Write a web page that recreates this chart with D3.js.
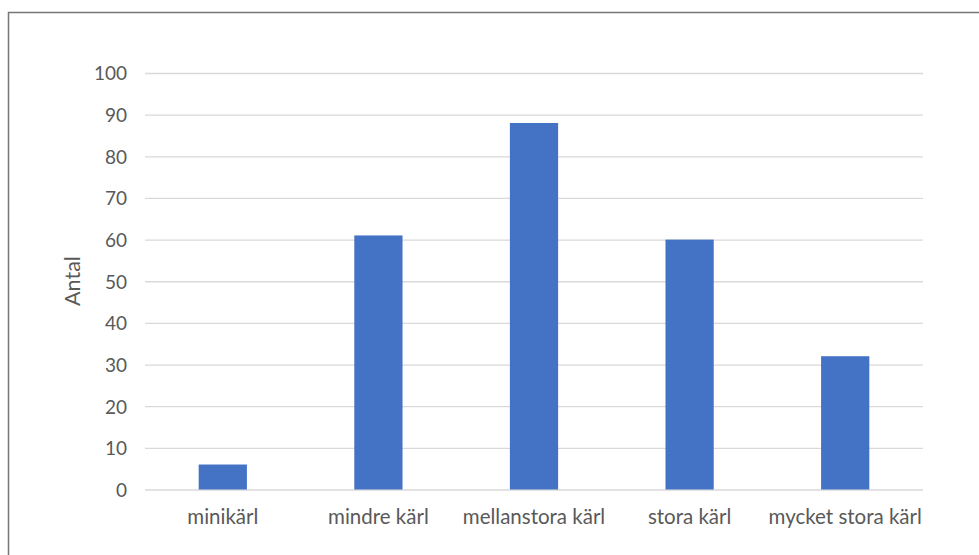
<!DOCTYPE html>
<html>
<head>
<meta charset="utf-8">
<script src="https://cdn.jsdelivr.net/npm/d3@7"></script>
<style>
    body { margin: 0; background: #fff; }
    svg { display: block; }
    .tick text, .axis-label { fill: #595959; font-family: Lato, "Open Sans", sans-serif; font-size: 19px; }
    .x-axis .tick text { font-size: 20.5px; }
    .axis-label { font-size: 21.5px; }
</style>
</head>
<body>
<svg id="chart" width="979" height="555"></svg>
<script>
const categories = ["minikärl", "mindre kärl", "mellanstora kärl", "stora kärl", "mycket stora kärl"];
const counts = [6, 61, 88, 60, 32];
const yTickValues = [0, 10, 20, 30, 40, 50, 60, 70, 80, 90, 100];

const data = categories.map((c, i) => ({ category: c, count: counts[i] }));

const svg = d3.select("#chart");
const width = +svg.attr("width");
const height = +svg.attr("height");

// outer frame, open at the bottom like the reference
svg.append("path")
    .attr("d", `M8.5,${height}V12.5H${width}`)
    .attr("fill", "none")
    .attr("stroke", "#767676")
    .attr("stroke-width", 1.5);

const margin = { top: 73, right: 56, bottom: 65.5, left: 145 };
const innerWidth = width - margin.left - margin.right;
const innerHeight = height - margin.top - margin.bottom;

const g = svg.append("g")
    .attr("transform", `translate(${margin.left},${margin.top})`);

const xScale = d3.scaleBand()
    .domain(categories)
    .range([0, innerWidth])
    .paddingInner(0.69)
    .paddingOuter(0.345);

const yScale = d3.scaleLinear()
    .domain([0, 100])
    .range([innerHeight, 0]);

const yAxis = d3.axisLeft(yScale)
    .tickValues(yTickValues)
    .tickSize(-innerWidth)
    .tickPadding(18);

const yAxisG = g.append("g").call(yAxis);
yAxisG.selectAll(".domain").remove();
yAxisG.selectAll(".tick line")
    .attr("stroke", "#d9d9d9")
    .attr("stroke-width", 1.3);
yAxisG.selectAll(".tick text").attr("dy", "0.36em");

const xAxis = d3.axisBottom(xScale)
    .tickSize(0)
    .tickPadding(20);

const xAxisG = g.append("g")
    .attr("class", "x-axis")
    .attr("transform", `translate(0,${innerHeight})`)
    .call(xAxis);
xAxisG.selectAll(".domain").remove();

g.selectAll("rect.bar").data(data)
    .enter()
    .append("rect")
    .attr("class", "bar")
    .attr("x", d => xScale(d.category))
    .attr("y", d => yScale(d.count))
    .attr("width", xScale.bandwidth())
    .attr("height", d => innerHeight - yScale(d.count))
    .attr("fill", "#4472c4");

svg.append("text")
    .attr("class", "axis-label")
    .attr("transform", `translate(80,281) rotate(-90)`)
    .attr("text-anchor", "middle")
    .text("Antal");
</script>
</body>
</html>
